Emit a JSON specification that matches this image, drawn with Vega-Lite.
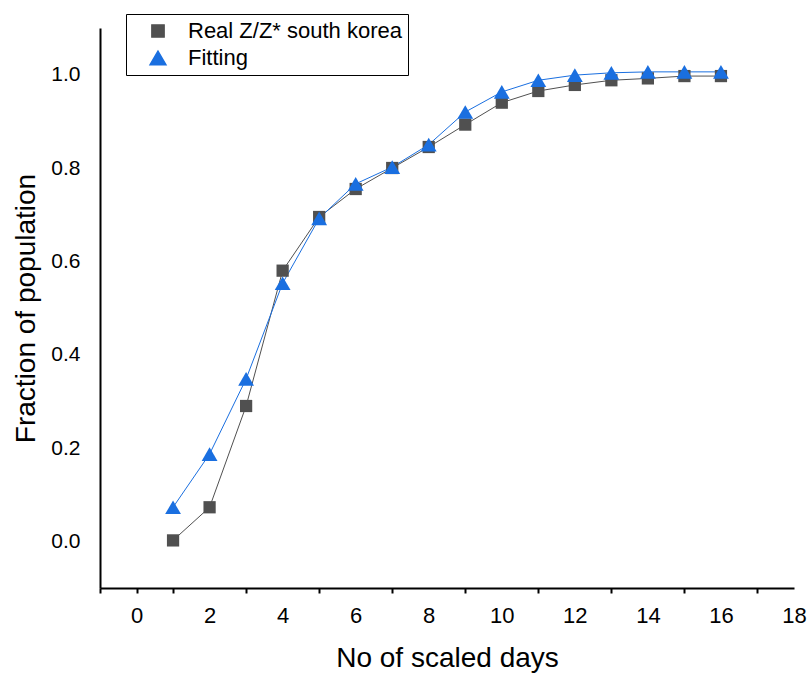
{
  "$schema": "https://vega.github.io/schema/vega-lite/v6.json",
  "width": 694,
  "height": 560,
  "autosize": {"type": "none"},
  "padding": {"left": 100, "top": 28, "right": 13, "bottom": 85},
  "background": "white",
  "config": {
    "view": {"stroke": null},
    "font": "Liberation Sans",
    "axis": {"grid": false, "domainColor": "black", "domainWidth": 2, "labelColor": "black", "titleColor": "black", "titleFontWeight": "normal", "titleFont": "Liberation Sans", "labelFont": "Liberation Sans"}
  },
  "data": {
    "values": [
      {"day": 1, "value": 0.002, "series": "Real Z/Z* south korea"},
      {"day": 2, "value": 0.073, "series": "Real Z/Z* south korea"},
      {"day": 3, "value": 0.29, "series": "Real Z/Z* south korea"},
      {"day": 4, "value": 0.58, "series": "Real Z/Z* south korea"},
      {"day": 5, "value": 0.695, "series": "Real Z/Z* south korea"},
      {"day": 6, "value": 0.755, "series": "Real Z/Z* south korea"},
      {"day": 7, "value": 0.80, "series": "Real Z/Z* south korea"},
      {"day": 8, "value": 0.845, "series": "Real Z/Z* south korea"},
      {"day": 9, "value": 0.893, "series": "Real Z/Z* south korea"},
      {"day": 10, "value": 0.94, "series": "Real Z/Z* south korea"},
      {"day": 11, "value": 0.965, "series": "Real Z/Z* south korea"},
      {"day": 12, "value": 0.978, "series": "Real Z/Z* south korea"},
      {"day": 13, "value": 0.988, "series": "Real Z/Z* south korea"},
      {"day": 14, "value": 0.992, "series": "Real Z/Z* south korea"},
      {"day": 15, "value": 0.997, "series": "Real Z/Z* south korea"},
      {"day": 16, "value": 0.997, "series": "Real Z/Z* south korea"},
      {"day": 1, "value": 0.073, "series": "Fitting"},
      {"day": 2, "value": 0.187, "series": "Fitting"},
      {"day": 3, "value": 0.348, "series": "Fitting"},
      {"day": 4, "value": 0.553, "series": "Fitting"},
      {"day": 5, "value": 0.692, "series": "Fitting"},
      {"day": 6, "value": 0.766, "series": "Fitting"},
      {"day": 7, "value": 0.802, "series": "Fitting"},
      {"day": 8, "value": 0.85, "series": "Fitting"},
      {"day": 9, "value": 0.92, "series": "Fitting"},
      {"day": 10, "value": 0.963, "series": "Fitting"},
      {"day": 11, "value": 0.988, "series": "Fitting"},
      {"day": 12, "value": 0.999, "series": "Fitting"},
      {"day": 13, "value": 1.004, "series": "Fitting"},
      {"day": 14, "value": 1.006, "series": "Fitting"},
      {"day": 15, "value": 1.006, "series": "Fitting"},
      {"day": 16, "value": 1.006, "series": "Fitting"}
    ]
  },
  "encoding": {
    "x": {
      "field": "day", "type": "quantitative",
      "scale": {"domain": [-1, 18], "nice": false, "zero": false},
      "axis": {
        "title": "No of scaled days",
        "values": [-1, 0, 1, 2, 3, 4, 5, 6, 7, 8, 9, 10, 11, 12, 13, 14, 15, 16, 17, 18],
        "labelExpr": "datum.value >= 0 && datum.value % 2 == 0 ? datum.label : ''",
        "labelFontSize": 22,
        "labelPadding": 12,
        "labelFlush": false,
        "labelOverlap": false,
        "tickWidth": 2,
        "tickSize": 5,
        "tickColor": {"condition": {"test": "datum.value % 2 != 0 || datum.value == 0", "value": "black"}, "value": "transparent"},
        "titleFontSize": 28,
        "titlePadding": 18
      }
    },
    "y": {
      "field": "value", "type": "quantitative",
      "scale": {"domain": [-0.1, 1.1], "nice": false, "zero": false},
      "axis": {
        "title": "Fraction of population",
        "values": [0, 0.2, 0.4, 0.6, 0.8, 1.0],
        "format": ".1f",
        "ticks": false,
        "tickSize": 0,
        "labelPadding": 20,
        "labelFontSize": 21,
        "titleFontSize": 28,
        "titlePadding": 10
      }
    },
    "color": {
      "field": "series", "type": "nominal",
      "scale": {"domain": ["Real Z/Z* south korea", "Fitting"], "range": ["#505050", "#1a6fe0"]},
      "legend": {
        "title": null,
        "orient": "none",
        "legendX": 26,
        "legendY": -14,
        "strokeColor": "black",
        "fillColor": "white",
        "padding": 6,
        "symbolOffset": 15,
        "labelFontSize": 22,
        "labelColor": "black",
        "labelOffset": 19,
        "rowPadding": 5,
        "labelLimit": 400
      }
    }
  },
  "layer": [
    {
      "mark": {"type": "line", "strokeWidth": 1}
    },
    {
      "mark": {"type": "point", "filled": true, "opacity": 1},
      "encoding": {
        "shape": {
          "field": "series", "type": "nominal",
          "scale": {"domain": ["Real Z/Z* south korea", "Fitting"], "range": ["square", "triangle-up"]},
          "legend": null
        },
        "size": {
          "field": "series", "type": "nominal",
          "scale": {"domain": ["Real Z/Z* south korea", "Fitting"], "range": [150, 250]},
          "legend": null
        }
      }
    }
  ]
}
